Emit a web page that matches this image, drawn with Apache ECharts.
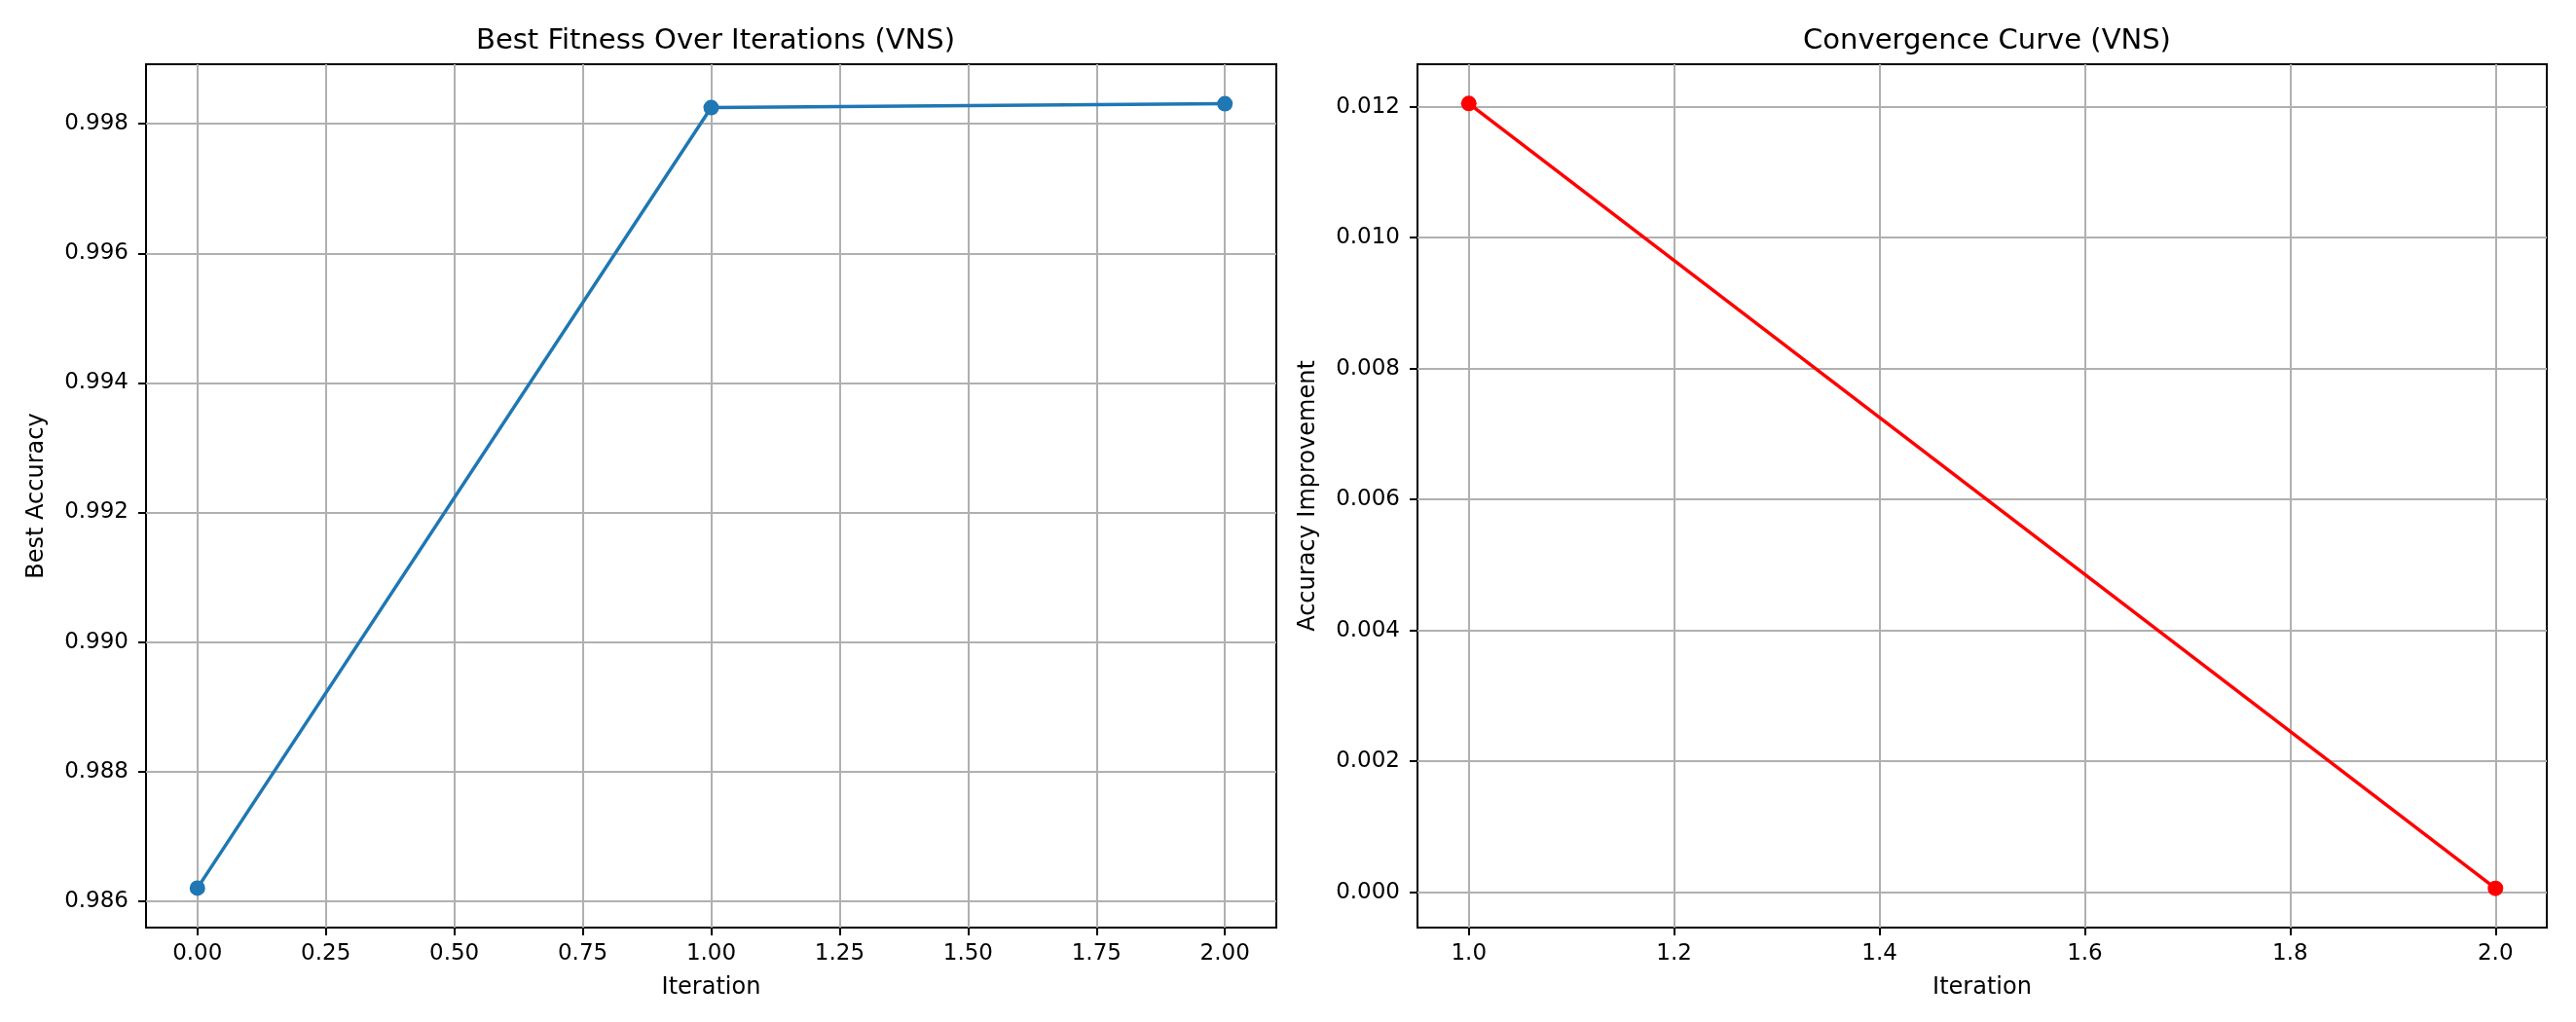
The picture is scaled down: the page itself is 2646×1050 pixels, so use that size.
<!DOCTYPE html>
<html>
<head>
<meta charset="utf-8">
<script src="https://cdn.jsdelivr.net/npm/echarts@6/dist/echarts.min.js"></script>
<style>
  html, body { margin: 0; padding: 0; background: #fff; }
  #main { width: 2646px; height: 1050px; }
</style>
</head>
<body>
<div id="main"></div>
<script>
// values
const iterations = [0, 1, 2];
const bestAccuracy = [0.9862, 0.99825, 0.99831];
const improvementIters = [1, 2];
const improvement = [0.01205, 0.00006];

// tick positions
const leftXTicks = [0, 0.25, 0.5, 0.75, 1, 1.25, 1.5, 1.75, 2];
const leftYTicks = [0.986, 0.988, 0.99, 0.992, 0.994, 0.996, 0.998];
const rightXTicks = [1, 1.2, 1.4, 1.6, 1.8, 2];
const rightYTicks = [0, 0.002, 0.004, 0.006, 0.008, 0.01, 0.012];

const font = "DejaVu Sans";
const gridColor = "#b0b0b0";

function xAxis(idx, min, max, ticks, digits) {
  return {
    type: "value",
    gridIndex: idx,
    min: min,
    max: max,
    name: "Iteration",
    nameLocation: "middle",
    nameGap: 50,
    nameTextStyle: { fontFamily: font, fontSize: 24, color: "#000" },
    axisLine: { show: false, onZero: false },
    axisTick: {
      show: true,
      length: 8,
      lineStyle: { color: "#000", width: 2 },
      customValues: ticks
    },
    axisLabel: {
      fontFamily: font,
      fontSize: 23,
      color: "#000",
      margin: 16,
      customValues: ticks,
      formatter: v => v.toFixed(digits)
    },
    splitLine: { show: true, lineStyle: { color: gridColor, width: 2 } }
  };
}

function yAxis(idx, min, max, ticks, name) {
  return {
    type: "value",
    gridIndex: idx,
    min: min,
    max: max,
    name: name,
    nameLocation: "middle",
    nameGap: 100,
    nameTextStyle: { fontFamily: font, fontSize: 24, color: "#000" },
    axisLine: { show: false, onZero: false },
    axisTick: {
      show: true,
      length: 8,
      lineStyle: { color: "#000", width: 2 },
      customValues: ticks
    },
    axisLabel: {
      fontFamily: font,
      fontSize: 23,
      color: "#000",
      margin: 18,
      customValues: ticks,
      formatter: v => v.toFixed(3)
    },
    splitLine: { show: true, lineStyle: { color: gridColor, width: 2 } }
  };
}

let myChart = echarts.init(document.getElementById("main"));
let option = {
  animation: false,
  backgroundColor: "#fff",
  title: [
    {
      text: "Best Fitness Over Iterations (VNS)",
      left: 730,
      top: 23,
      textAlign: "center",
      textStyle: { fontFamily: font, fontSize: 29, fontWeight: "normal", color: "#000" }
    },
    {
      text: "Convergence Curve (VNS)",
      left: 2036,
      top: 23,
      textAlign: "center",
      textStyle: { fontFamily: font, fontSize: 29, fontWeight: "normal", color: "#000" }
    }
  ],
  grid: [
    { left: 150, top: 66, width: 1161, height: 887, show: true, borderColor: "#000", borderWidth: 2, backgroundColor: "transparent" },
    { left: 1456, top: 66, width: 1160, height: 887, show: true, borderColor: "#000", borderWidth: 2, backgroundColor: "transparent" }
  ],
  xAxis: [
    xAxis(0, -0.1, 2.1, leftXTicks, 2),
    xAxis(1, 0.95, 2.05, rightXTicks, 1)
  ],
  yAxis: [
    yAxis(0, 0.98559, 0.99892, leftYTicks, "Best Accuracy"),
    yAxis(1, -0.00054, 0.01265, rightYTicks, "Accuracy Improvement")
  ],
  series: [
    {
      type: "line",
      xAxisIndex: 0,
      yAxisIndex: 0,
      data: iterations.map((x, i) => [x, bestAccuracy[i]]),
      symbol: "circle",
      symbolSize: 16,
      lineStyle: { color: "#1f77b4", width: 3.5 },
      itemStyle: { color: "#1f77b4", borderWidth: 0 }
    },
    {
      type: "line",
      xAxisIndex: 1,
      yAxisIndex: 1,
      data: improvementIters.map((x, i) => [x, improvement[i]]),
      symbol: "circle",
      symbolSize: 16,
      lineStyle: { color: "#ff0000", width: 3.5 },
      itemStyle: { color: "#ff0000", borderWidth: 0 }
    }
  ]
};
myChart.setOption(option);
</script>
</body>
</html>
